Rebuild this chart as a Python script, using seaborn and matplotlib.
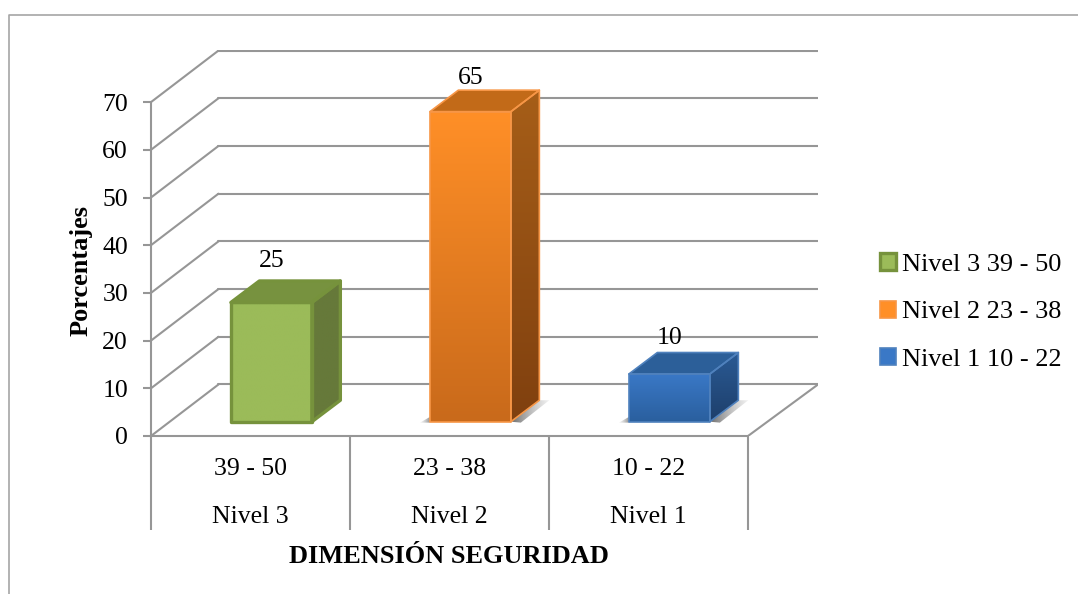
import matplotlib
matplotlib.use("Agg")
import numpy as np
import pandas as pd
import seaborn as sns
import matplotlib.pyplot as plt
from matplotlib.colors import to_rgba
from matplotlib.lines import Line2D
from matplotlib.patches import Patch, Polygon

# data
niveles = ["Nivel 3", "Nivel 2", "Nivel 1"]
rangos = ["39 - 50", "23 - 38", "10 - 22"]
porcentajes = [25, 65, 10]
leyenda = ["Nivel 3 39 - 50", "Nivel 2 23 - 38", "Nivel 1 10 - 22"]
y_ticks = [0, 10, 20, 30, 40, 50, 60, 70]

# colours per bar
front_top = ["#9BBB59", "#FF8F27", "#3A78C6"]
front_bottom = ["#9BBB59", "#C96A1B", "#2A5F9E"]
side_top = ["#66793A", "#A65E18", "#2A5A94"]
side_bottom = ["#66793A", "#80400F", "#1E3F6B"]
top_face = ["#77923F", "#C26A18", "#2C5F99"]
edges = ["#76923C", "#F79646", "#4F81BD"]
edge_w = [2.4, 1.2, 1.2]
has_shadow = [False, True, True]
label_gap = [11.7, 10.1, 10.5]
GRID = "#969696"

plt.figure(figsize=(10.78, 5.94), dpi=100)
sns.set_theme(style="white")
plt.rcParams["font.family"] = ["Liberation Serif", "DejaVu Serif"]
plt.rcParams["text.color"] = "black"
plt.rcParams["xtick.labelcolor"] = "black"
plt.rcParams["ytick.labelcolor"] = "black"
fig = plt.gcf()
FS = 18.5

# axes spans the front origin up to the back wall
ax = fig.add_axes([151 / 1078, (594 - 436) / 594, 667 / 1078, 386 / 594])
df = pd.DataFrame({"rango": rangos, "nivel": niveles, "pct": porcentajes})
sns.barplot(data=df, x="rango", y="pct", hue="nivel", dodge=False, width=0.407,
            palette=front_top, legend=False, errorbar=None, zorder=3, ax=ax)

# fake 3d depth, in data units
WALL_X, WALL_Y = 0.339, 10.8
BAR_X, BAR_Y = 0.143, 4.5
SHIFT, FLOOR = 0.105, 3.0
XMIN, XMAX = -0.5, 2.5
XEND = XMIN + 667 / 199


def shade(verts, c0, c1, z, horizontal=False):
    # gradient clipped to a polygon
    verts = np.array(verts, float)
    c0, c1 = np.array(to_rgba(c0)), np.array(to_rgba(c1))
    t = np.linspace(0, 1, 64)[:, None]
    img = c0 + (c1 - c0) * t
    img = img[None, :, :] if horizontal else img[:, None, :]
    im = ax.imshow(img, aspect="auto", interpolation="bilinear", zorder=z,
                   extent=(verts[:, 0].min(), verts[:, 0].max(), verts[:, 1].min(), verts[:, 1].max()),
                   origin="upper")
    im.set_clip_path(Polygon(verts, transform=ax.transData))


# gridlines on the wall and floor
for t in y_ticks:
    ax.plot([XMIN, XMIN + WALL_X], [t, t + WALL_Y], color=GRID, lw=1.5, zorder=1)
    ax.plot([XMIN + WALL_X, XEND], [t + WALL_Y, t + WALL_Y], color=GRID, lw=1.5, zorder=1)
ax.plot([XMAX, XEND], [0, WALL_Y], color=GRID, lw=1.5, zorder=1)

for i, bar in enumerate(c[0] for c in ax.containers):
    bar.set_x(bar.get_x() + SHIFT)
    bar.set_y(FLOOR)
    x0, x1 = bar.get_x(), bar.get_x() + bar.get_width()
    y0, y1 = FLOOR, FLOOR + bar.get_height()
    z = 3 + i * 0.1
    fr = [(x0, y0), (x1, y0), (x1, y1), (x0, y1)]
    sd = [(x1, y0), (x1 + BAR_X, y0 + BAR_Y), (x1 + BAR_X, y1 + BAR_Y), (x1, y1)]
    tp = [(x0, y1), (x1, y1), (x1 + BAR_X, y1 + BAR_Y), (x0 + BAR_X, y1 + BAR_Y)]
    if has_shadow[i]:
        shade([(x1, y0), (x1 + BAR_X, y0 + BAR_Y), (x1 + BAR_X + 0.05, y0 + BAR_Y),
               (x1 + 0.05, y0 - 0.2)], (0.25, 0.25, 0.25, 0.75), (0.5, 0.5, 0.5, 0.1), 2, True)
        shade([(x0 - 0.05, y0 - 0.2), (x0, y0 + 1), (x0, y0 - 0.2)],
              (0.6, 0.6, 0.6, 0.1), (0.3, 0.3, 0.3, 0.6), 2, True)
    shade(fr, front_top[i], front_bottom[i], z)
    shade(sd, side_top[i], side_bottom[i], z)
    ax.add_patch(Polygon(tp, fc=top_face[i], ec="none", zorder=z))
    for pts in (fr, sd, tp):
        ax.add_patch(Polygon(pts, fc="none", ec=edges[i], lw=edge_w[i], joinstyle="round", zorder=z + 0.05))
    ax.text(x0 + bar.get_width() / 2, porcentajes[i] + label_gap[i], str(porcentajes[i]),
            ha="center", va="center", fontsize=FS, color="black", zorder=6)

# axes, ticks, two level category labels
sns.despine(ax=ax, top=True, right=True)
ax.spines["left"].set(color=GRID, linewidth=1.5, bounds=(0, 70))
ax.spines["bottom"].set(color=GRID, linewidth=1.5, bounds=(XMIN, XMAX))
ax.set_yticks(y_ticks)
ax.tick_params(axis="y", left=True, length=5.5, width=1.5, color=GRID, pad=11, labelsize=FS,
               labelcolor="black")
ax.set_xticks(range(3), rangos)
ax.tick_params(axis="x", bottom=False, pad=10, labelsize=FS, labelcolor="black")
ax.vlines([-0.5, 0.5, 1.5, 2.5], -19.7, 0, color=GRID, lw=1.5, clip_on=False, zorder=1)
for i, n in enumerate(niveles):
    ax.text(i, -17.0, n, ha="center", va="center", fontsize=FS, color="black", clip_on=False)

ax.set_xlim(XMIN, XEND)
ax.set_ylim(0, 386 / 4.77)
ax.patch.set_alpha(0)

ax.set_xlabel("DIMENSIÓN SEGURIDAD", fontsize=19, fontweight="bold", color="black")
ax.xaxis.set_label_coords((449 - 151) / 667, -(545 - 436) / 386)
ax.set_ylabel("Porcentajes", fontsize=19, fontweight="bold", color="black")
ax.yaxis.set_label_coords((93 - 151) / 667, (436 - 270) / 386)

handles = [Patch(fc=front_top[i], ec=edges[i], lw=edge_w[i]) for i in range(3)]
fig.legend(handles, leyenda, loc="center left", bbox_to_anchor=(880 / 1078, (594 - 312) / 594),
           frameon=False, fontsize=18.9, borderpad=0, borderaxespad=0, labelspacing=0.93,
           handlelength=0.62, handleheight=0.62, handletextpad=0.22)

# picture frame cut off at right and bottom
fig.add_artist(Line2D([9 / 1078, 9 / 1078, 1], [0, (594 - 15) / 594, (594 - 15) / 594],
                      color="#A6A6A6", lw=1.2))

fig.savefig("out.png", dpi=100)
